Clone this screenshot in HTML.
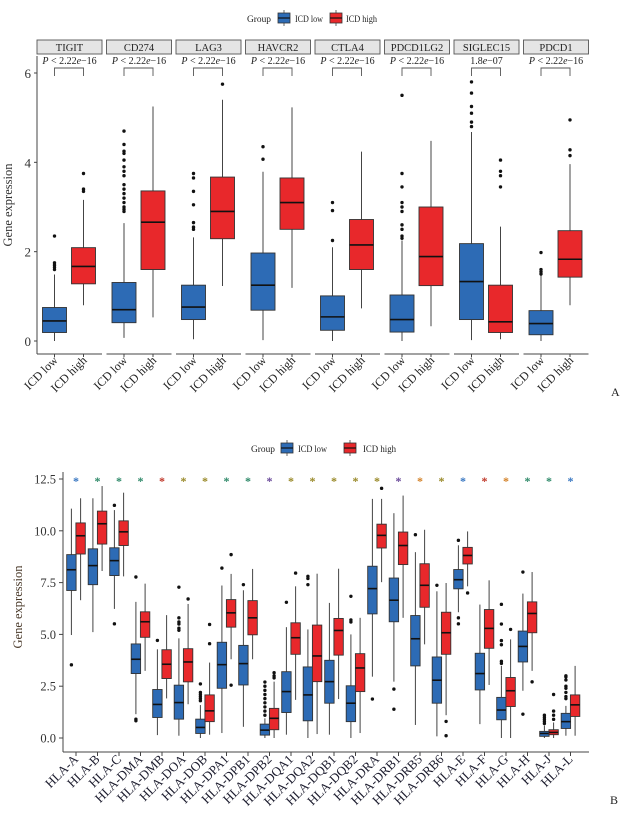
<!DOCTYPE html>
<html><head><meta charset="utf-8">
<style>
html,body{margin:0;padding:0;background:#fff;}
svg{display:block;font-family:"Liberation Serif",serif;}
</style></head>
<body>
<svg id="chart" width="628" height="818" viewBox="0 0 628 818" xmlns="http://www.w3.org/2000/svg">
</svg>
<script>
// ---------- Panel A data ----------
const topGenes = ["TIGIT","CD274","LAG3","HAVCR2","CTLA4","PDCD1LG2","SIGLEC15","PDCD1"];
const topPLabels = ["P < 2.22e\u221216","P < 2.22e\u221216","P < 2.22e\u221216","P < 2.22e\u221216","P < 2.22e\u221216","P < 2.22e\u221216","1.8e\u221207","P < 2.22e\u221216"];
// [whiskerLow, q1, median, q3, whiskerHigh]
const topLowStats = [[0,0.19,0.45,0.75,1.49],[0.07,0.41,0.7,1.31,2.64],[0.04,0.48,0.76,1.25,2.32],[0.02,0.69,1.25,1.97,3.79],[0,0.24,0.54,1.01,2.1],[0,0.2,0.48,1.03,2.25],[0.02,0.48,1.33,2.18,4.68],[0,0.14,0.39,0.68,1.48]];
const topHighStats = [[0.8,1.28,1.67,2.09,3.16],[0.53,1.6,2.66,3.36,5.25],[1.23,2.29,2.9,3.67,5.4],[1.19,2.5,3.1,3.65,5.23],[0.73,1.6,2.15,2.72,4.24],[0.33,1.24,1.89,3.0,4.48],[0.04,0.19,0.43,1.25,2.56],[0.8,1.43,1.83,2.47,3.96]];
const topLowOut = [[1.6,1.65,1.7,1.75,2.35],[2.9,2.95,3.0,3.1,3.2,3.3,3.4,3.5,3.7,3.8,3.9,4.05,4.2,4.25,4.4,4.7],[2.5,2.55,2.65,3.05,3.35,3.65,3.75],[4.07,4.35],[2.25,2.92,3.1],[2.3,2.35,2.5,2.6,2.9,3.0,3.1,3.45,3.75,5.5],[4.8,4.9,5.1,5.25,5.55,5.8],[1.5,1.55,1.6,1.98]];
const topHighOut = [[3.35,3.4,3.75],[],[5.75],[],[],[],[3.45,3.7,3.8,4.05],[4.15,4.28,4.95]];
const topTicks = [0,2,4,6];

// ---------- Panel B data ----------
const hlaGenes = ["HLA-A","HLA-B","HLA-C","HLA-DMA","HLA-DMB","HLA-DOA","HLA-DOB","HLA-DPA1","HLA-DPB1","HLA-DPB2","HLA-DQA1","HLA-DQA2","HLA-DQB1","HLA-DQB2","HLA-DRA","HLA-DRB1","HLA-DRB5","HLA-DRB6","HLA-E","HLA-F","HLA-G","HLA-H","HLA-J","HLA-L"];
const hlaLowStats = [[4.97,7.12,8.12,8.85,11.07],[5.11,7.4,8.32,9.13,11.57],[6.23,7.84,8.56,9.18,11.0],[1.15,3.11,3.8,4.54,6.57],[0.14,0.99,1.62,2.34,4.28],[0.11,0.91,1.71,2.55,4.81],[0,0.22,0.51,0.91,1.59],[0.24,2.4,3.54,4.62,7.36],[0.54,2.56,3.59,4.47,7.13],[0,0.14,0.38,0.67,0.95],[0.16,1.23,2.24,3.2,5.35],[0,0.83,2.08,3.43,5.24],[0.16,1.68,2.72,3.75,6.52],[0,0.79,1.68,2.52,5.0],[2.96,5.99,7.21,8.29,11.54],[2.72,5.61,6.65,7.72,10.85],[0.63,3.48,4.79,5.91,8.97],[0.08,1.68,2.79,3.91,7.08],[6.07,7.2,7.64,8.13,9.3],[0.67,2.32,3.11,4.09,6.44],[0,0.88,1.35,1.96,3.48],[2.28,3.67,4.42,5.16,6.97],[0,0.08,0.22,0.32,0.6],[0.11,0.46,0.79,1.19,1.55]];
const hlaHighStats = [[6.65,8.88,9.76,10.38,11.57],[8.06,9.36,10.34,10.95,12.16],[7.8,9.29,9.95,10.48,11.84],[3.24,4.86,5.61,6.09,7.45],[1.91,2.87,3.56,4.26,5.93],[1.63,2.71,3.67,4.31,6.47],[0.16,0.79,1.31,2.08,3.64],[3.8,5.35,6.04,6.68,7.92],[3.8,4.98,5.8,6.63,8.16],[0,0.4,0.95,1.43,2.72],[1.84,4.04,4.84,5.56,7.32],[0.19,2.72,3.96,5.45,7.93],[1.88,4.0,5.19,5.77,8.17],[0.24,2.24,3.38,4.07,5.8],[7.52,9.17,9.78,10.32,11.54],[5.8,8.37,9.29,9.94,11.7],[4.52,6.31,7.37,8.41,10.05],[1.1,4.04,5.08,6.07,7.48],[7.32,8.4,8.81,9.2,9.97],[2.56,4.33,5.29,6.2,7.61],[0,1.52,2.28,2.92,4.76],[3.24,5.08,6.01,6.57,8.01],[0,0.16,0.27,0.4,0.75],[0.11,1.04,1.6,2.08,3.48]];
const hlaLowOut = [[3.53],[],[11.23,5.51],[7.77,0.91,0.83],[4.71],[5.2,5.3,5.5,5.6,5.8,7.28],[1.8,1.9,2.0,2.1,2.2,2.61],[8.2],[7.4],[1.1,1.3,1.5,1.7,1.9,2.1,2.3,2.5,2.7],[6.55],[7.4,7.7,7.8],[],[5.6,5.7,6.84],[1.88],[2.36,1.39],[9.81],[7.37],[9.54,5.8,5.51],[],[3.6,3.7,4.5,4.7,5.5,6.45],[8.01,1.15],[0.7,0.8,0.9,1.0,1.1],[1.9,2.0,2.2,2.4,2.5,2.8,2.95,3.0]];
const hlaHighOut = [[],[],[],[],[],[6.71],[4.55,5.48],[8.85,2.55],[],[2.9,3.0,3.15],[7.96],[],[],[],[12.05],[],[],[0.8,0.11],[7.0],[],[5.24],[2.71],[0.9,1.1,1.3,2.1],[]];
const hlaStarColors = ["#3a78c2","#2f8a6a","#2f8a6a","#2f8a6a","#c0392b","#9a8a2a","#9a8a2a","#2f8a6a","#2f8a6a","#6a4a9a","#9a8a2a","#9a8a2a","#9a8a2a","#9a8a2a","#9a8a2a","#6a4a9a","#d4832a","#9a8a2a","#3a78c2","#c0392b","#d4832a","#2f8a6a","#2f8a6a","#3a78c2"];
const hlaTicks = [0,2.5,5,7.5,10,12.5];

const NS = "http://www.w3.org/2000/svg";
const svg = document.getElementById("chart");
const BLUE = "#2d6bb5", RED = "#e8282b", DARK = "#333";
function mk(tag, attrs, parent){
  const e = document.createElementNS(NS, tag);
  for (const k in attrs) e.setAttribute(k, attrs[k]);
  (parent||svg).appendChild(e);
  return e;
}
function txt(x,y,s,attrs,parent){
  const t = mk("text", Object.assign({x:x,y:y},attrs||{}), parent);
  t.textContent = s;
  return t;
}

function drawBox(g, cx, w, st, outs, fill, y){
  const wl=st[0],q1=st[1],med=st[2],q3=st[3],wh=st[4];
  const whisk = mk("line",{x1:cx,x2:cx,y1:y(wl),y2:y(q1),stroke:"#444","stroke-width":1},g);
  
  
  const whisk2 = mk("line",{x1:cx,x2:cx,y1:y(q3),y2:y(wh),stroke:"#444","stroke-width":1},g);
  
  
  const r = mk("rect",{x:cx-w/2,y:y(q3),width:w,height:y(q1)-y(q3),fill:fill,stroke:DARK,"stroke-width":0.9},g);
  
  
  const m = mk("line",{x1:cx-w/2,x2:cx+w/2,y1:y(med),y2:y(med),stroke:"#111","stroke-width":1.6},g);
  
  
  outs.forEach(v=>{
    const c = mk("circle",{cx:cx,cy:y(v),r:1.7,fill:"#111"},g);
    
    
  });
}

function legend(yc, gx, bx, lx, rx, hx, name, lw, hw){
  const g = mk("g",{});
  
  
  txt(gx, yc+4, "Group", {"font-size":9.5,fill:"#222",textLength:24,lengthAdjust:"spacingAndGlyphs"}, g);
  [[bx,BLUE,lx,"ICD low",lw],[rx,RED,hx,"ICD high",hw]].forEach(([kx,col,tx,lab,tw])=>{
    const k = mk("g",{},g);
    
    
    mk("line",{x1:kx+6,x2:kx+6,y1:yc-8,y2:yc+8,stroke:"#444","stroke-width":0.8},k);
    mk("rect",{x:kx,y:yc-5,width:12,height:10,fill:col,stroke:DARK,"stroke-width":0.8},k);
    mk("line",{x1:kx,x2:kx+12,y1:yc,y2:yc,stroke:"#111","stroke-width":1.2},k);
    txt(tx, yc+4, lab, {"font-size":9.5,fill:"#222",textLength:tw,lengthAdjust:"spacingAndGlyphs"}, k);
  });
}

// ================= Panel A =================
(function(){
  const y0 = 341, y6 = 73;
  const y = v => y0 - (y0 - y6) * v / 6;
  const fx0 = 37, pitch = 69.5, fw = 65;
  const g = mk("g",{});
  
  
  legend(18, 247, 278, 295, 330, 346, 'legend-panel-a', 28, 31);
  mk("line",{x1:fx0,x2:fx0,y1:56,y2:354,stroke:"#444","stroke-width":1},g);
  topTicks.forEach(t=>{
    mk("line",{x1:fx0-3,x2:fx0,y1:y(t),y2:y(t),stroke:"#444"},g);
    const tl = txt(fx0-6, y(t)+5, String(t), {"font-size":13,"text-anchor":"end",fill:"#333"}, g);
    
    
  });
  const yt = txt(0,0,"Gene expression",{"font-size":12.5,"text-anchor":"middle",fill:"#333",transform:"translate(12,205) rotate(-90)"},g);
  
  
  topGenes.forEach((gn,i)=>{
    const fx = fx0 + i*pitch;
    const fg = mk("g",{},g);
    
    
    mk("rect",{x:fx,y:40,width:fw,height:14,fill:"#e5e5e5",stroke:"#555","stroke-width":0.9},fg);
    const st = txt(fx+fw/2,51,gn,{"font-size":10.5,"text-anchor":"middle",fill:"#222"},fg);
    
    
    const lx = fx+17.5, hx = fx+46.5;
    const p = topPLabels[i];
    const pt = mk("text",{x:fx+fw/2,y:64,"font-size":10,"text-anchor":"middle",fill:"#222"},fg);
    
    
    if (p.startsWith("P")) {
      const a = document.createElementNS(NS,"tspan"); a.setAttribute("font-style","italic"); a.textContent="P"; pt.appendChild(a);
      const b = document.createElementNS(NS,"tspan"); b.textContent=" < 2.22"; pt.appendChild(b);
      const c = document.createElementNS(NS,"tspan"); c.setAttribute("font-style","italic"); c.textContent="e"; pt.appendChild(c);
      const d = document.createElementNS(NS,"tspan"); d.textContent="\u221216"; pt.appendChild(d);
    } else {
      const b = document.createElementNS(NS,"tspan"); b.textContent="1.8"; pt.appendChild(b);
      const c = document.createElementNS(NS,"tspan"); c.setAttribute("font-style","italic"); c.textContent="e"; pt.appendChild(c);
      const d = document.createElementNS(NS,"tspan"); d.textContent="\u221207"; pt.appendChild(d);
    }
    const br = mk("path",{d:`M${lx} 76 V68 H${hx} V76`,fill:"none",stroke:"#555","stroke-width":0.9},fg);
    
    
    drawBox(fg, lx, 24, topLowStats[i], topLowOut[i], BLUE, y);
    drawBox(fg, hx, 24, topHighStats[i], topHighOut[i], RED, y);
    mk("line",{x1:fx,x2:fx+fw,y1:354,y2:354,stroke:"#444","stroke-width":1},fg);
    [[lx,"ICD low"],[hx,"ICD high"]].forEach(([x,lab])=>{
      mk("line",{x1:x,x2:x,y1:354,y2:357,stroke:"#444"},fg);
      const xl = txt(0,0,lab,{"font-size":12,"text-anchor":"end",fill:"#222",transform:`translate(${x+4},${361}) rotate(-45)`},fg);
      
      
    });
  });
  const A = txt(611,396,"A",{"font-size":12,fill:"#222"},g);
  
  
})();

// ================= Panel B =================
(function(){
  const y0 = 738, yTop = 479;
  const y = v => y0 - (y0 - yTop) * v / 12.5;
  const x0 = 76, pitch = 21.5;
  const g = mk("g",{});
  
  
  legend(448, 251, 281, 298, 344, 363, 'legend-panel-b', 29, 33);
  mk("line",{x1:63,x2:63,y1:472,y2:752,stroke:"#444","stroke-width":1},g);
  mk("line",{x1:63,x2:589,y1:752,y2:752,stroke:"#444","stroke-width":1},g);
  hlaTicks.forEach(t=>{
    mk("line",{x1:59,x2:63,y1:y(t),y2:y(t),stroke:"#444"},g);
    const tl = txt(56, y(t)+4.5, t.toFixed(1), {"font-size":12.5,"text-anchor":"end",fill:"#333"}, g);
    
    
  });
  const yt = txt(0,0,"Gene expression",{"font-size":12.5,"text-anchor":"middle",fill:"#4a3a2a",transform:"translate(22,607) rotate(-90)"},g);
  
  
  hlaGenes.forEach((gn,i)=>{
    const cx = x0 + i*pitch;
    const cg = mk("g",{},g);
    
    
    const s = txt(cx, 485, "*", {"font-size":12,"text-anchor":"middle",fill:hlaStarColors[i],"font-weight":"bold"}, cg);
    
    
    drawBox(cg, cx-4.6, 9.4, hlaLowStats[i], hlaLowOut[i], BLUE, y);
    drawBox(cg, cx+4.6, 9.4, hlaHighStats[i], hlaHighOut[i], RED, y);
    mk("line",{x1:cx,x2:cx,y1:752,y2:756,stroke:"#444"},cg);
    const xl = txt(0,0,gn,{"font-size":13,"text-anchor":"end",fill:"#1c1c2e",transform:`translate(${cx+3},${760}) rotate(-45)`},cg);
    
    
  });
  const B = txt(610,804,"B",{"font-size":12,fill:"#222"},g);
  
  
})();
</script>
</body></html>
